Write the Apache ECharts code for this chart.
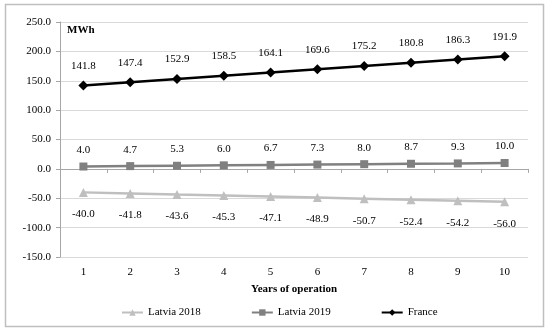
<!DOCTYPE html>
<html><head><meta charset="utf-8">
<script src="https://cdn.jsdelivr.net/npm/echarts@6/dist/echarts.min.js"></script>
<style>html,body{margin:0;padding:0;background:#fff}#c{width:550px;height:331px}</style>
</head><body><div id="c"></div>
<script>
const years = ['1','2','3','4','5','6','7','8','9','10'];
const latvia2018 = [-40.0,-41.8,-43.6,-45.3,-47.1,-48.9,-50.7,-52.4,-54.2,-56.0];
const latvia2019 = [4.0,4.7,5.3,6.0,6.7,7.3,8.0,8.7,9.3,10.0];
const france = [141.8,147.4,152.9,158.5,164.1,169.6,175.2,180.8,186.3,191.9];
const yTicks = {min:-150, max:250, interval:50};

const FONT = 'Liberation Serif';
const chart = echarts.init(document.getElementById('c'), null, {renderer:'canvas'});
const lbl = (pos, d) => ({show:true, position:pos, distance:d, color:'#000', fontFamily:FONT, fontSize:11,
  formatter: p => p.value.toFixed(1)});
chart.setOption({
  animation:false,
  textStyle:{fontFamily:FONT},
  graphic:[
    {type:'rect', shape:{x:5.5,y:4.5,width:538,height:322}, style:{fill:'none', stroke:'#bfbfbf', lineWidth:1.5}},
    {type:'text', left:67, top:25, style:{text:'MWh', font:'bold 11px '+FONT, fill:'#000'}}
  ],
  grid:{left:60, right:22, top:22, bottom:74},
  legend:{bottom:8, left:116, itemGap:50, itemWidth:21, itemHeight:8,
    textStyle:{fontFamily:FONT, fontSize:11, color:'#000'},
    data:['Latvia 2018','Latvia 2019','France']},
  xAxis:{type:'category', data:years, boundaryGap:true,
    name:'Years of operation', nameLocation:'middle', nameGap:27,
    nameTextStyle:{fontFamily:FONT, fontWeight:'bold', fontSize:11, color:'#000'},
    axisLine:{lineStyle:{color:'#a6a6a6'}},
    axisTick:{show:true, length:4, lineStyle:{color:'#a6a6a6'}},
    axisLabel:{color:'#000', fontFamily:FONT, fontSize:11, margin:10}},
  yAxis:{type:'value', min:yTicks.min, max:yTicks.max, interval:yTicks.interval,
    axisLine:{show:true, lineStyle:{color:'#a6a6a6'}},
    axisTick:{show:true, length:4, lineStyle:{color:'#a6a6a6'}},
    splitLine:{lineStyle:{color:'#d9d9d9'}},
    axisLabel:{color:'#000', fontFamily:FONT, fontSize:11, margin:9, formatter:v=>v.toFixed(1)}},
  series:[
    {name:'Latvia 2018', type:'line', data:latvia2018, symbol:'triangle', symbolSize:9,
     lineStyle:{color:'#bfbfbf', width:2.5}, itemStyle:{color:'#bfbfbf'}, label:lbl('bottom', 12)},
    {name:'Latvia 2019', type:'line', data:latvia2019, symbol:'rect', symbolSize:8,
     lineStyle:{color:'#808080', width:2.5}, itemStyle:{color:'#808080'}, label:lbl('top', 7)},
    {name:'France', type:'line', data:france, symbol:'diamond', symbolSize:10,
     lineStyle:{color:'#000', width:2.5}, itemStyle:{color:'#000'}, label:lbl('top', 9)}
  ]
});
</script></body></html>
